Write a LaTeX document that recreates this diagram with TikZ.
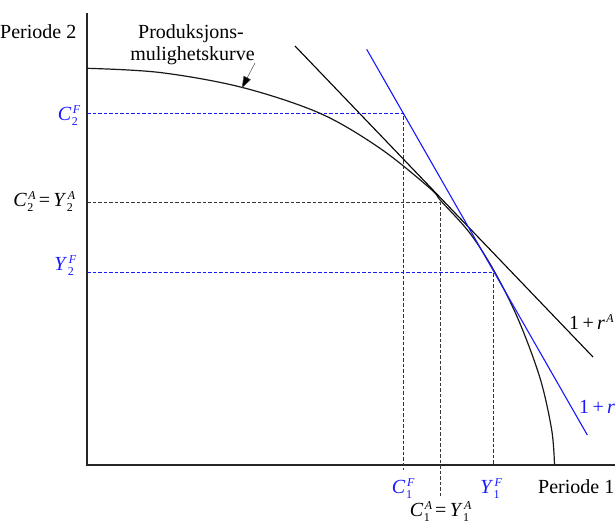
\documentclass[tikz,border=0pt]{standalone}
\usepackage{fontspec}
\setmainfont{Liberation Serif}
\usetikzlibrary{arrows.meta}
\definecolor{lblue}{RGB}{25,25,255}
\definecolor{dgray}{RGB}{55,55,55}
\newcommand{\ssz}{\fontsize{12}{12}\selectfont}
\newcommand{\var}[3]{\textit{#1}\kern0.5pt\rlap{\raisebox{7pt}{\ssz\itshape\kern1pt #3}}\raisebox{-5.5pt}{\ssz #2}\kern2pt}
\newcommand{\onepr}[1]{1\,+\,\textit{r}\kern1.5pt\raisebox{7pt}{\ssz\itshape #1}}
\begin{document}
\begin{tikzpicture}[x=1pt,y=-1pt,
  font=\fontsize{20}{24}\selectfont,
  every node/.style={inner sep=0pt},
  axisline/.style={line width=1.3pt, black!85},
  curveline/.style={line width=1.2pt, black!90},
  tanline/.style={line width=1.1pt},
  helpdash/.style={line width=1.6pt, dash pattern=on 3.5pt off 2pt},
  bluelbl/.style={text=lblue}]
\useasboundingbox (0,0) rectangle (615,523);
% coordinates
\coordinate (ytop) at (87,13);
\coordinate (O) at (87,465);
\coordinate (xend) at (615,465);
\coordinate (ta) at (295,46);
\coordinate (tb) at (593,357);
\coordinate (fa) at (366.7,49.3);
\coordinate (fb) at (587.3,435);
\coordinate (c2f) at (87,113.5);
\coordinate (pf) at (403.5,113.5);
\coordinate (pfb) at (403.5,470);
\coordinate (c2a) at (87,202.5);
\coordinate (pa) at (440.5,202.5);
\coordinate (pab) at (440.5,497);
\coordinate (y2f) at (87,272.5);
\coordinate (py) at (493.5,272.5);
\coordinate (pyb) at (493.5,465);
\coordinate (arrs) at (255,63);
\coordinate (arre) at (241.7,88.3);
% axes
\draw[axisline] (ytop) -- (O) -- (xend);
% helper dashed lines
\draw[helpdash, lblue] (c2f) -- (pf) -- (pfb);
\draw[helpdash, lblue] (y2f) -- (py) -- (pyb);
\draw[helpdash, dgray] (c2a) -- (pa) -- (pab);
% production possibility curve
\draw[curveline] plot[smooth, tension=0.55] coordinates {
 (87,68.3) (160,72.5) (241.7,87.3) (320,113.3) (380,148.3) (430,188.3)
 (441,201) (470,233.3) (495,272.5) (518.5,320) (540,378) (551.7,430) (554.5,465)};
% tangent lines
\draw[tanline, black] (ta) -- (tb);
\draw[tanline, lblue] (fa) -- (fb);
% curve label and arrow
\node[anchor=base] (lab1) at (191,38.3) {Produksjons-};
\node[anchor=base] (lab2) at (192.5,60) {mulighetskurve};
\draw[line width=0.5pt, black!70, -{Triangle[length=12pt,width=8pt,fill=black]}] (arrs) -- (arre);
% axis titles
\node[anchor=base west] (p2) at (0,38.3) {Periode 2};
\node[anchor=base west] (p1) at (538,493) {Periode 1};
% axis labels
\node[anchor=base east, bluelbl] (lc2f) at (80,120) {\var{C}{2}{F}};
\node[anchor=base east] (lc2a) at (75,206) {\var{C}{2}{A}\,=\,\var{Y}{2}{A}};
\node[anchor=base east, bluelbl] (ly2f) at (76,270) {\var{Y}{2}{F}};
\node[anchor=base, bluelbl] (lc1f) at (403,493) {\var{C}{1}{F}};
\node[anchor=base, bluelbl] (ly1f) at (491,493) {\var{Y}{1}{F}};
\node[anchor=base] (lc1a) at (440.5,516) {\var{C}{1}{A}\,=\,\var{Y}{1}{A}};
% line labels
\node[anchor=base west] (lra) at (569,329) {\onepr{A}};
\node[anchor=base west, bluelbl] (lrf) at (579,413) {\onepr{F}};
\end{tikzpicture}
\end{document}
